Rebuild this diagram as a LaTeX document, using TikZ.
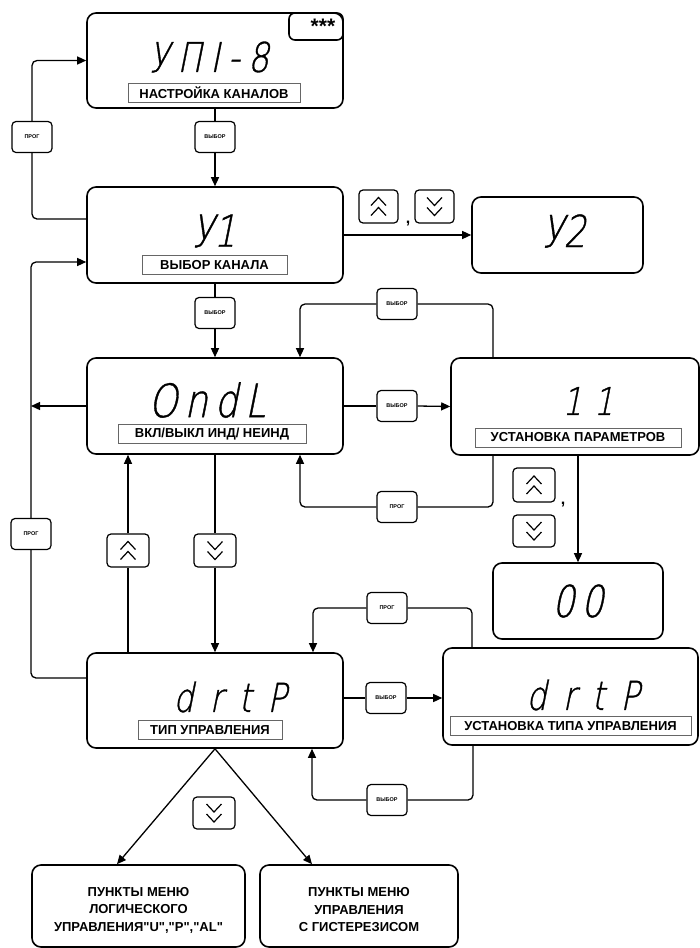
\documentclass[tikz,border=0pt]{standalone}
\usepackage{fontspec}
\setmainfont{Liberation Sans}
\newfontfamily\segfont[FakeSlant=0.2,FakeStretch=0.8,FakeBold=0.8,LetterSpace=15]{DejaVu Sans ExtraLight}
\usetikzlibrary{arrows.meta}

\tikzset{
  disp/.style={draw, line width=1.6pt, rounded corners=9pt, inner sep=0pt},
  seg/.style={inner sep=0pt, font=\segfont\fontsize{42}{42}\selectfont},
  lbl/.style={draw=black!60, line width=0.9pt, inner sep=0pt, minimum height=19pt,
    font=\bfseries\fontsize{13}{15}\selectfont},
  btn/.style={draw, line width=1.2pt, rounded corners=4pt, fill=white, inner sep=0pt,
    minimum width=40pt, minimum height=31pt, font=\bfseries\fontsize{5.5}{6}\selectfont},
  flow/.style={line width=1.3pt, rounded corners=5pt},
  flowarr/.style={flow, -{Triangle[length=9pt,width=8pt]}},
  chev/.style={line width=1.2pt},
  menu/.style={draw, line width=1.6pt, rounded corners=9pt, align=center,
    font=\bfseries\fontsize{13}{17.5}\selectfont},
}

% double chevrons inside the arrow keys
\newcommand{\chevup}[1]{%
  \draw[chev] ([shift={(-7.5pt,1pt)}]#1.center) -- ++(7.5pt,8pt) -- ++(7.5pt,-8pt);
  \draw[chev] ([shift={(-7.5pt,-9pt)}]#1.center) -- ++(7.5pt,8pt) -- ++(7.5pt,-8pt);}
\newcommand{\chevdown}[1]{%
  \draw[chev] ([shift={(-7.5pt,9pt)}]#1.center) -- ++(7.5pt,-8pt) -- ++(7.5pt,8pt);
  \draw[chev] ([shift={(-7.5pt,-1pt)}]#1.center) -- ++(7.5pt,-8pt) -- ++(7.5pt,8pt);}

\begin{document}
\begin{tikzpicture}[x=1pt,y=-1pt]
\useasboundingbox (0,0) rectangle (700,948);

% display boxes
\node[disp, minimum width=256pt, minimum height=95pt] (nastr) at (215,60.5) {};
\node[disp, rounded corners=6pt, minimum width=54pt, minimum height=27pt,
  font=\bfseries\fontsize{21}{21}\selectfont] (stars) at (316,26.5)
  {\hspace{14pt}\raisebox{-5pt}{***}};
\node[seg, font=\segfont\fontsize{41}{41}\selectfont\addfontfeature{LetterSpace=20}] (nastrtxt) at (209,57) {УПІ-8};
\node[lbl, minimum width=172pt] (nastrlbl) at (214,92.5) {НАСТРОЙКА КАНАЛОВ};

\node[disp, minimum width=256pt, minimum height=96pt] (kanal) at (215,235) {};
\node[seg, font=\segfont\fontsize{44}{44}\selectfont\addfontfeature{LetterSpace=0}] (kanaltxt) at (214,231) {У1};
\node[lbl, minimum width=145pt] (kanallbl) at (214.5,265) {ВЫБОР КАНАЛА};

\node[disp, minimum width=171pt, minimum height=76pt] (ydva) at (557.5,235) {};
\node[seg, font=\segfont\fontsize{44}{44}\selectfont\addfontfeature{LetterSpace=0}] (ydvatxt) at (564,231) {У2};

\node[disp, minimum width=256pt, minimum height=96pt] (ondl) at (215,406) {};
\node[seg, font=\segfont\fontsize{46}{46}\selectfont] (ondltxt) at (207,400) {OndL};
\node[lbl, minimum width=188pt] (ondllbl) at (212,434) {ВКЛ/ВЫКЛ ИНД/ НЕИНД};

\node[disp, minimum width=248pt, minimum height=97pt] (par) at (575,406.5) {};
\node[seg, font=\segfont\fontsize{38}{38}\selectfont] (partxt) at (588,401) {1\hspace{12pt}1};
\node[lbl, minimum width=206pt] (parlbl) at (578,437.5) {УСТАНОВКА ПАРАМЕТРОВ};

\node[disp, minimum width=170pt, minimum height=76pt] (zero) at (578,601) {};
\node[seg, font=\segfont\fontsize{44}{44}\selectfont] (zerotxt) at (578,601) {00};

\node[disp, minimum width=256pt, minimum height=95pt] (drtp) at (215,700.5) {};
\node[seg, font=\segfont\fontsize{40}{40}\selectfont\addfontfeature{LetterSpace=40}] (drtptxt) at (230,697) {drtP};
\node[lbl, minimum width=144pt] (drtplbl) at (210,730) {ТИП УПРАВЛЕНИЯ};

\node[disp, minimum width=255pt, minimum height=97pt] (tip) at (570.5,696.5) {};
\node[seg, font=\segfont\fontsize{40}{40}\selectfont\addfontfeature{LetterSpace=40}] (tiptxt) at (583,695) {drtP};
\node[lbl, minimum width=241pt] (tiplbl) at (570.5,726) {УСТАНОВКА ТИПА УПРАВЛЕНИЯ};

\node[menu, minimum width=213pt, minimum height=82pt] (logic) at (138.5,906)
  {\rule{0pt}{17pt}ПУНКТЫ МЕНЮ\\ЛОГИЧЕСКОГО\\УПРАВЛЕНИЯ\textquotedbl U\textquotedbl ,\textquotedbl P\textquotedbl ,\textquotedbl AL\textquotedbl};
\node[menu, minimum width=198pt, minimum height=82pt] (gist) at (359,906)
  {\rule{0pt}{17pt}ПУНКТЫ МЕНЮ\\УПРАВЛЕНИЯ\\С ГИСТЕРЕЗИСОМ};

% keys
\node[btn] (prog1) at (32,137) {ПРОГ};
\node[btn] (vyb1) at (215,137) {ВЫБОР};
\node[btn] (vyb2) at (215,313) {ВЫБОР};
\node[btn] (vyb3) at (397,406) {ВЫБОР};
\node[btn] (vyb4) at (397,304) {ВЫБОР};
\node[btn] (prog2) at (397,507) {ПРОГ};
\node[btn] (progL) at (31,534) {ПРОГ};
\node[btn] (vyb5) at (386,698) {ВЫБОР};
\node[btn] (prog3) at (387,608) {ПРОГ};
\node[btn] (vyb6) at (387,800) {ВЫБОР};

\node[btn, minimum width=39pt, minimum height=33pt] (up1) at (378.5,206.5) {};
\node[btn, minimum width=39pt, minimum height=33pt] (down1) at (434.5,206.5) {};
\node[font=\bfseries\fontsize{16}{16}\selectfont] (comma1) at (408,224) {,};
\node[btn, minimum width=42pt, minimum height=34pt] (up2) at (534,485) {};
\node[btn, minimum width=42pt, minimum height=32pt] (down2) at (534,531) {};
\node[font=\bfseries\fontsize{16}{16}\selectfont] (comma2) at (563,505) {,};
\node[btn, minimum width=42pt, minimum height=33pt] (up3) at (128,550.5) {};
\node[btn, minimum width=42pt, minimum height=33pt] (down3) at (215,550.5) {};
\node[btn, minimum width=42pt, minimum height=32pt] (down4) at (214,813) {};
\chevup{up1} \chevdown{down1}
\chevup{up2} \chevdown{down2}
\chevup{up3} \chevdown{down3}
\chevdown{down4}

% connectors
\draw[flow] ([yshift=16pt]kanal.west) -| (prog1.south);
\draw[flowarr] (prog1.north) |- (nastr.west);
\draw[flow] (nastr.south) -- (vyb1.north);
\draw[flowarr] (vyb1.south) -- (kanal.north);
\draw[flowarr] (kanal.east) -- (ydva.west);

\draw[flow] (kanal.south) -- (vyb2.north);
\draw[flowarr] (vyb2.south) -- (ondl.north);
\draw[flowarr] (ondl.west) -- (ondl.west -| progL.center);
\draw[flow] ([yshift=22.5pt]drtp.west) -| (progL.south);
\draw[flowarr] (progL.north) |- ([yshift=-27pt]kanal.west);

\draw[flow] (ondl.east) -- (vyb3.west);
\draw[flowarr] (vyb3.east) -- (par.west);
\draw[flow] ([xshift=-82pt]par.north) |- (vyb4.east);
\draw[flowarr] (vyb4.west) -| ([xshift=85pt]ondl.north);
\draw[flow] ([xshift=-82pt]par.south) |- (prog2.east);
\draw[flowarr] (prog2.west) -| ([xshift=85pt]ondl.south);
\draw[flowarr] (par.south -| zero.north) -- (zero.north);

\draw[flow] (drtp.north -| up3.south) -- (up3.south);
\draw[flowarr] (up3.north) -- (ondl.south -| up3.north);
\draw[flow] (ondl.south) -- (down3.north);
\draw[flowarr] (down3.south) -- (drtp.north);

\draw[flow] (drtp.east |- vyb5.west) -- (vyb5.west);
\draw[flowarr] (vyb5.east) -- (tip.west |- vyb5.east);
\draw[flow] ([xshift=-98.5pt]tip.north) |- (prog3.east);
\draw[flowarr] (prog3.west) -| ([xshift=98pt]drtp.north);
\draw[flow] ([xshift=-97.5pt]tip.south) |- (vyb6.east);
\draw[flowarr] (vyb6.west) -| ([xshift=97pt]drtp.south);

\draw[flowarr] (drtp.south) -- ([xshift=-21.5pt]logic.north);
\draw[flowarr] (drtp.south) -- ([xshift=-47pt]gist.north);
\end{tikzpicture}
\end{document}
